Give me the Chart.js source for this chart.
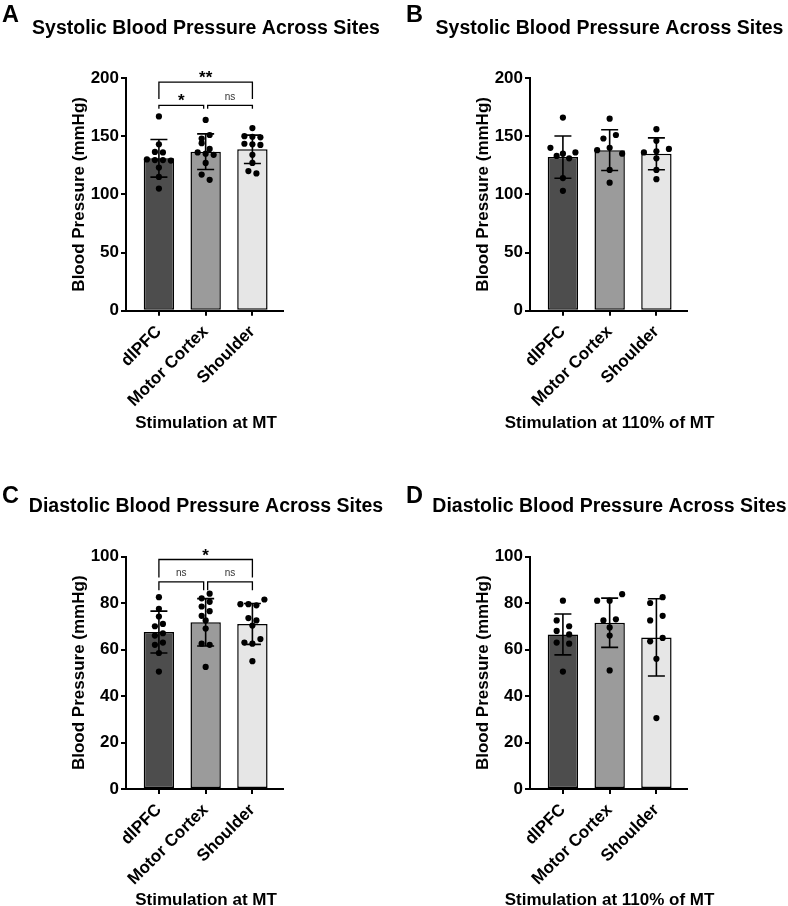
<!DOCTYPE html>
<html>
<head>
<meta charset="utf-8">
<title>Blood Pressure Across Sites</title>
<script src="https://cdn.jsdelivr.net/npm/chart.js@4.4.1/dist/chart.umd.min.js"></script>
<style>
    html, body { margin: 0; padding: 0; background: #fff; }
    #figure { position: relative; width: 788px; height: 906px; overflow: hidden; }
    .panel { position: absolute; width: 394px; height: 453px; }
</style>
</head>
<body>
<div id="figure">
    <div class="panel" style="left:0;top:0"><canvas id="chartA"></canvas></div>
    <div class="panel" style="left:394px;top:0"><canvas id="chartB"></canvas></div>
    <div class="panel" style="left:0;top:453px"><canvas id="chartC"></canvas></div>
    <div class="panel" style="left:394px;top:453px"><canvas id="chartD"></canvas></div>
</div>
<script>
const sites = ['dlPFC', 'Motor Cortex', 'Shoulder'];
const sysTicks = [0, 50, 100, 150, 200];
const diaTicks = [0, 20, 40, 60, 80, 100];

// A: systolic, stimulation at MT (n = 11 per site)
const sysMtMean = [131, 136.7, 138.7];
const sysMtSd = [16.2, 15.3, 12.2];
const sysMtPoints = [
    [167, 143, 136.5, 136, 130, 129.5, 129.5, 129, 123, 115, 105],
    [164, 148, 151, 144, 139, 136, 135, 134, 127, 117, 112.5],
    [157, 150, 149.5, 149, 143.5, 143, 142.5, 134, 127, 120, 118]
];
// [from site, to site, bracket level, leg end, label]
const sysMtBrackets = [
    [0, 2, 196.5, 182, '**'],
    [0, 1, 176.5, 173.5, '*'],
    [1, 2, 176.5, 173.5, 'ns']
];

// B: systolic, stimulation at 110% of MT (n = 8 per site)
const sys110Mean = [132, 138, 134.8];
const sys110Sd = [18.2, 17.5, 13.7];
const sys110Points = [
    [166, 140, 135, 136, 133, 131, 114, 103],
    [165, 148, 151, 138, 140, 135, 121, 110],
    [156, 146, 136, 137, 139, 131, 121, 113]
];

// C: diastolic, stimulation at MT
const diaMtMean = [67.5, 71.7, 71];
const diaMtSd = [9, 10.2, 8.8];
const diaMtPoints = [
    [82.5, 77.5, 74.2, 70, 71, 66, 67, 62, 63, 58.5, 50.5],
    [82, 84, 78.5, 80.5, 74.5, 76.5, 72.5, 69, 62.5, 62, 52.5],
    [79.5, 79.5, 79, 81.5, 73.5, 72.5, 70.3, 63, 62.5, 64.5, 55]
];
const diaMtBrackets = [
    [0, 2, 98.7, 91, '*'],
    [0, 1, 89.1, 85.5, 'ns'],
    [1, 2, 89.1, 85.5, 'ns']
];

// D: diastolic, stimulation at 110% of MT
const dia110Mean = [66.5, 71.5, 65.2];
const dia110Sd = [8.8, 10.6, 16.6];
const dia110Points = [
    [81, 72.5, 70, 68, 66.5, 63, 62.5, 50.5],
    [81, 81, 83.8, 72.5, 73, 69.5, 66, 51],
    [80, 82.5, 72.5, 74.5, 63.5, 65, 56, 30.5]
];

const barColors = ['#4d4d4d', '#9b9b9b', '#e6e6e6'];
const FONT = '"Liberation Sans", Arial, Helvetica, sans-serif';

Chart.defaults.font.family = FONT;
Chart.defaults.color = '#000';

const panelText = {
    id: 'panelText',
    afterDraw(chart, args, o) {
        const ctx = chart.ctx;
        ctx.save();
        ctx.fillStyle = '#000';
        ctx.textBaseline = 'alphabetic';
        ctx.textAlign = 'left';
        ctx.font = 'bold 23.5px ' + FONT;
        ctx.fillText(o.letter, o.letterX, o.letterY);
        ctx.textAlign = 'center';
        ctx.font = 'bold 19.5px ' + FONT;
        ctx.fillText(o.title, o.titleX, o.titleY);
        ctx.font = 'bold 17px ' + FONT;
        ctx.fillText(o.xTitle, o.titleX, o.xTitleY);
        ctx.restore();
    }
};

const errorBars = {
    id: 'errorBars',
    afterDatasetDraw(chart, args, o) {
        if (args.meta.type !== 'bar') return;
        const ctx = chart.ctx;
        const y = chart.scales.y;
        ctx.save();
        ctx.strokeStyle = '#000';
        ctx.lineWidth = 1.6;
        args.meta.data.forEach((bar, i) => {
            const mean = o.mean[i];
            const top = y.getPixelForValue(mean + o.sd[i]);
            const bottom = y.getPixelForValue(mean - o.sd[i]);
            const half = o.capWidth / 2;
            ctx.beginPath();
            ctx.moveTo(bar.x, top);
            ctx.lineTo(bar.x, bottom);
            ctx.moveTo(bar.x - half, top);
            ctx.lineTo(bar.x + half, top);
            ctx.moveTo(bar.x - half, bottom);
            ctx.lineTo(bar.x + half, bottom);
            ctx.stroke();
        });
        ctx.restore();
    }
};

const brackets = {
    id: 'brackets',
    afterDraw(chart, args, o) {
        if (!o.items || !o.items.length) return;
        const ctx = chart.ctx;
        const { x, y } = chart.scales;
        ctx.save();
        ctx.strokeStyle = '#000';
        ctx.lineWidth = 1.3;
        o.items.forEach(item => {
            const [from, to, level, tip, label] = item;
            const shared = k => o.items.some(b => b !== item && b[2] === level && (b[0] === k || b[1] === k));
            let x0 = x.getPixelForValue(from);
            let x1 = x.getPixelForValue(to);
            if (shared(from)) x0 += o.gap;
            if (shared(to)) x1 -= o.gap;
            const yl = y.getPixelForValue(level);
            const yt = y.getPixelForValue(tip);
            ctx.beginPath();
            ctx.moveTo(x0, yt);
            ctx.lineTo(x0, yl);
            ctx.lineTo(x1, yl);
            ctx.lineTo(x1, yt);
            ctx.stroke();

            const stars = label !== 'ns';
            ctx.textAlign = 'center';
            ctx.textBaseline = 'alphabetic';
            ctx.font = stars ? 'bold 17px ' + FONT : '10px ' + FONT;
            ctx.fillStyle = stars ? '#000' : '#333';
            ctx.fillText(label, (x0 + x1) / 2, stars ? yl + 1 : yl - 5.5);
        });
        ctx.restore();
    }
};

// spread points that sit at about the same height into centred rows
function swarmOffsets(values, yScale, spacing, rowPx) {
    const order = values.map((v, i) => i).sort((a, b) => values[b] - values[a]);
    const offsets = values.map(() => 0);
    let row = [];
    let rowTop = null;
    const flush = () => {
        row.sort((a, b) => a - b);
        row.forEach((idx, k) => {
            offsets[idx] = (k - (row.length - 1) / 2) * spacing;
        });
        row = [];
    };
    order.forEach(idx => {
        const py = yScale.getPixelForValue(values[idx]);
        if (rowTop === null || py - rowTop > rowPx) {
            if (row.length) flush();
            rowTop = py;
        }
        row.push(idx);
    });
    if (row.length) flush();
    return offsets;
}

function makePanel(id, cfg) {
    const left = cfg.col === 0;
    const top = cfg.row === 0;
    const geom = {
        padLeft: left ? 70.5 : 80.5,
        padRight: left ? 110.7 : 100.7,
        padTop: top ? 78 : 103.5,
        padBottom: top ? 23.5 : 0,
        xHeight: top ? 118.8 : 117,
        titleX: left ? 206 : 215.5,
        titleY: top ? 34.3 : 58.7,
        xTitleY: top ? 427.5 : 452.3,
        letterX: left ? 2 : 12,
        letterY: top ? 21.7 : 50
    };

    const chart = new Chart(document.getElementById(id), {
        type: 'bar',
        data: {
            datasets: [
                {
                    type: 'scatter',
                    order: 0,
                    data: cfg.points.flatMap((vals, i) => vals.map(v => ({ x: i, y: v }))),
                    backgroundColor: '#000',
                    borderWidth: 0,
                    pointRadius: 3.1,
                    pointHoverRadius: 3.1
                },
                {
                    type: 'bar',
                    order: 1,
                    data: cfg.mean.map((m, i) => ({ x: i, y: m })),
                    backgroundColor: barColors,
                    borderColor: '#000',
                    borderWidth: 1.5,
                    borderSkipped: false,
                    barPercentage: 0.65,
                    categoryPercentage: 1
                }
            ]
        },
        options: {
            responsive: true,
            maintainAspectRatio: false,
            animation: false,
            events: [],
            layout: {
                padding: { left: geom.padLeft, right: geom.padRight, top: geom.padTop, bottom: geom.padBottom }
            },
            plugins: {
                legend: { display: false },
                tooltip: { enabled: false },
                panelText: {
                    letter: cfg.letter, title: cfg.title, xTitle: cfg.xTitle,
                    letterX: geom.letterX, letterY: geom.letterY,
                    titleX: geom.titleX, titleY: geom.titleY, xTitleY: geom.xTitleY
                },
                errorBars: { mean: cfg.mean, sd: cfg.sd, capWidth: 17 },
                brackets: { items: cfg.brackets || [], gap: 2 }
            },
            scales: {
                x: {
                    type: 'linear',
                    offset: false,
                    min: -0.704,
                    max: 2.661,
                    afterBuildTicks: scale => {
                        scale.ticks = sites.map((s, i) => ({ value: i }));
                    },
                    afterFit: scale => { scale.height = geom.xHeight; },
                    ticks: {
                        autoSkip: false,
                        minRotation: 45,
                        maxRotation: 45,
                        padding: 6,
                        color: '#000',
                        font: { size: 17, weight: 'bold' },
                        callback: value => sites[value] ?? ''
                    },
                    grid: {
                        offset: false,
                        drawOnChartArea: false,
                        drawTicks: true,
                        tickLength: 5,
                        lineWidth: 2,
                        color: '#000'
                    },
                    border: { display: true, color: '#000', width: 2 }
                },
                y: {
                    min: 0,
                    max: cfg.yTicks[cfg.yTicks.length - 1],
                    afterBuildTicks: scale => {
                        scale.ticks = cfg.yTicks.map(v => ({ value: v }));
                    },
                    afterFit: scale => { scale.width = 55.5; },
                    ticks: {
                        padding: 2,
                        color: '#000',
                        font: { size: 17, weight: 'bold' }
                    },
                    grid: {
                        drawOnChartArea: false,
                        drawTicks: true,
                        tickLength: 5,
                        lineWidth: 2,
                        color: '#000'
                    },
                    border: { display: true, color: '#000', width: 2 },
                    title: {
                        display: true,
                        text: 'Blood Pressure (mmHg)',
                        color: '#000',
                        padding: { top: 0, bottom: 0 },
                        font: { size: 17, weight: 'bold', lineHeight: 1 }
                    }
                }
            }
        },
        plugins: [panelText, errorBars, brackets]
    });

    // place the dots now that the scales know their pixel sizes
    const xs = chart.scales.x;
    const unitPx = xs.getPixelForValue(1) - xs.getPixelForValue(0);
    chart.data.datasets[0].data = cfg.points.flatMap((vals, i) => {
        const offs = swarmOffsets(vals, chart.scales.y, cfg.spacing, 7);
        return vals.map((v, k) => ({ x: i + offs[k] / unitPx, y: v }));
    });
    chart.update('none');
    return chart;
}

const charts = [
    makePanel('chartA', {
        col: 0, row: 0, letter: 'A', title: 'Systolic Blood Pressure Across Sites',
        xTitle: 'Stimulation at MT', yTicks: sysTicks,
        mean: sysMtMean, sd: sysMtSd, points: sysMtPoints, brackets: sysMtBrackets, spacing: 8
    }),
    makePanel('chartB', {
        col: 1, row: 0, letter: 'B', title: 'Systolic Blood Pressure Across Sites',
        xTitle: 'Stimulation at 110% of MT', yTicks: sysTicks,
        mean: sys110Mean, sd: sys110Sd, points: sys110Points, spacing: 12.5
    }),
    makePanel('chartC', {
        col: 0, row: 1, letter: 'C', title: 'Diastolic Blood Pressure Across Sites',
        xTitle: 'Stimulation at MT', yTicks: diaTicks,
        mean: diaMtMean, sd: diaMtSd, points: diaMtPoints, brackets: diaMtBrackets, spacing: 8
    }),
    makePanel('chartD', {
        col: 1, row: 1, letter: 'D', title: 'Diastolic Blood Pressure Across Sites',
        xTitle: 'Stimulation at 110% of MT', yTicks: diaTicks,
        mean: dia110Mean, sd: dia110Sd, points: dia110Points, spacing: 12.5
    })
];
</script>
</body>
</html>
